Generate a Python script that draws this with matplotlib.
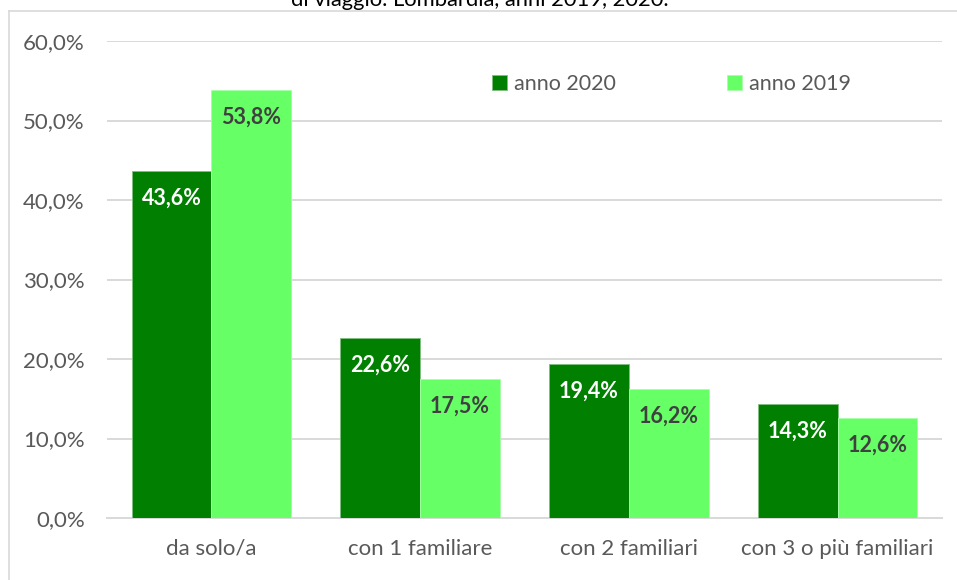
import matplotlib
matplotlib.use("Agg")
import matplotlib.pyplot as plt
import numpy as np
from matplotlib.lines import Line2D

plt.rcParams['font.family'] = ['Lato', 'DejaVu Sans']

categories = ["da solo/a", "con 1 familiare", "con 2 familiari", "con 3 o più familiari"]
anno_2020 = [43.6, 22.6, 19.4, 14.3]
anno_2019 = [53.8, 17.5, 16.2, 12.6]
series_labels = ["anno 2020", "anno 2019"]
yticks = [0, 10, 20, 30, 40, 50, 60]
title = "di viaggio. Lombardia, anni 2019, 2020."

W, H = 957, 580
fig = plt.figure(figsize=(W / 100, H / 100), dpi=100)
ax = fig.add_axes([107 / W, 1 - 518 / H, (942 - 107) / W, (518 - 41) / H])

dark = "#007F00"
light = "#66FF66"
x = np.arange(len(categories))
w = 0.382
b1 = ax.bar(x - w / 2, anno_2020, w, color=dark, edgecolor="#7fbf7f", linewidth=0.6, zorder=3, label=series_labels[0])
b2 = ax.bar(x + w / 2, anno_2019, w, color=light, edgecolor="#a8ffa8", linewidth=0.6, zorder=3, label=series_labels[1])

def fmt(v):
    return f"{v:.1f}%".replace(".", ",")

for bars, vals, col in ((b1, anno_2020, "white"), (b2, anno_2019, "#404040")):
    for r, v in zip(bars, vals):
        ax.annotate(fmt(v), (r.get_x() + r.get_width() / 2, v), xytext=(0, -19.5),
                    textcoords="offset points", ha="center", va="center",
                    fontsize=15.5, fontweight="bold", color=col, zorder=4)

ax.set_xlim(-0.5, len(categories) - 0.5)
ax.set_ylim(0, 60)
ax.set_yticks(yticks)
ax.set_yticklabels([f"{t:.1f}%".replace(".", ",") for t in yticks])
ax.set_xticks(x)
ax.set_xticklabels(categories)
ax.tick_params(axis="both", length=0, labelsize=16, colors="#595959")
ax.tick_params(axis="y", pad=16)
ax.tick_params(axis="x", pad=15)
ax.yaxis.grid(True, color="#D9D9D9", linewidth=1.4, zorder=0)
ax.set_axisbelow(True)
for s in ["top", "right", "left"]:
    ax.spines[s].set_visible(False)
ax.spines["bottom"].set_color("#D9D9D9")
ax.spines["bottom"].set_linewidth(1.4)

leg = fig.legend(handles=[b1, b2], loc="center left", bbox_to_anchor=(492 / W, 1 - 84 / H),
                 ncol=2, frameon=False, fontsize=15.5, handlelength=0.7, handleheight=0.7,
                 handletextpad=0.3, columnspacing=5.2, borderpad=0, borderaxespad=0,
                 labelcolor="#595959")

# outer frame (chart area border) and cut-off title
fig.add_artist(Line2D([9 / W, 1], [1 - 11 / H, 1 - 11 / H], color="#D9D9D9", linewidth=1.2))
fig.add_artist(Line2D([9 / W, 9 / W], [0, 1 - 11 / H], color="#D9D9D9", linewidth=1.2))
fig.text(480 / W, 1 - 6 / H, title, ha="center", va="baseline", fontsize=15.8, color="#000000")

fig.savefig("out.png", dpi=100)
